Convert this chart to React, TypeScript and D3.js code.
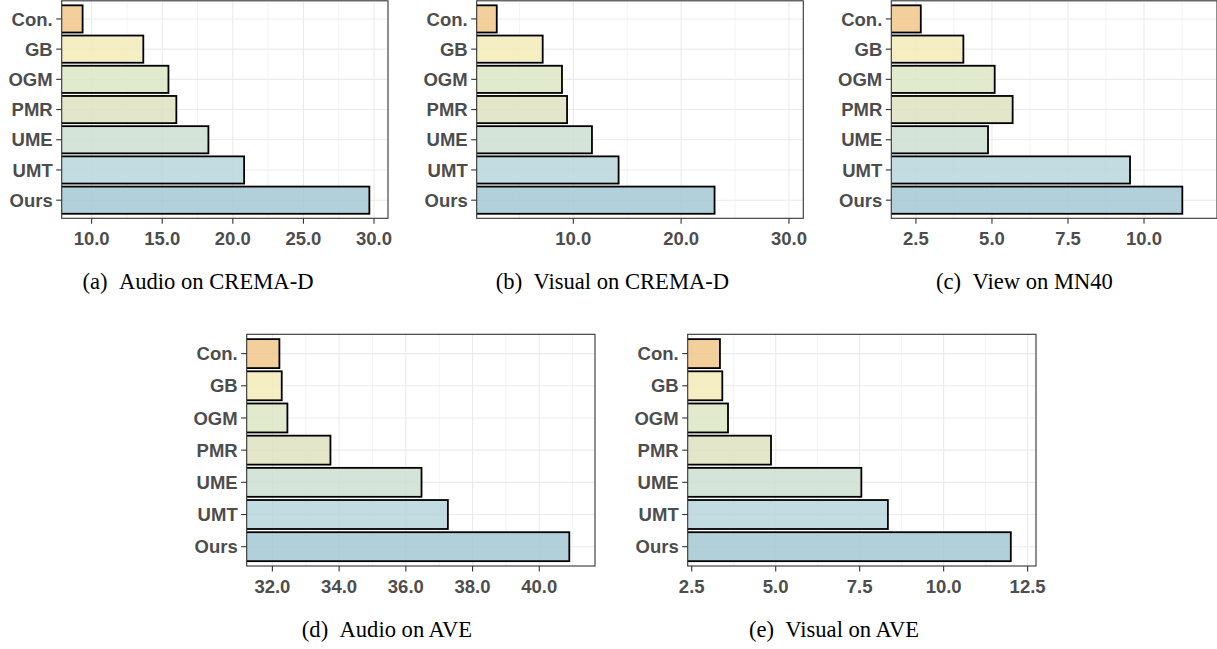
import React from 'react';
import * as d3 from 'd3';

const methods = ['Con.', 'GB', 'OGM', 'PMR', 'UME', 'UMT', 'Ours'];
const colors = ['#F0C78A', '#F4EBB9', '#DDE6C4', '#DEE2BE', '#CEDFD2', '#B8D6DD', '#A3C8D2'];

const audioCrema = [9.36, 13.66, 15.44, 16.0, 18.27, 20.8, 29.67];
const visualCrema = [2.9, 7.16, 8.95, 9.42, 11.73, 14.2, 23.1];
const viewMn40 = [2.66, 4.06, 5.09, 5.68, 4.87, 9.54, 11.26];
const audioAve = [32.21, 32.28, 32.45, 33.74, 36.47, 37.26, 40.9];
const visualAve = [3.34, 3.41, 3.58, 4.86, 7.55, 8.34, 12.0];

const ticksA = [10, 15, 20, 25, 30];
const ticksB = [10, 20, 30];
const ticksC = [2.5, 5, 7.5, 10];
const ticksD = [32, 34, 36, 38, 40];
const ticksE = [2.5, 5, 7.5, 10, 12.5];

const captions = ['(a)', '(b)', '(c)', '(d)', '(e)'];
const captionTexts = ['Audio on CREMA-D', 'Visual on CREMA-D', 'View on MN40', 'Audio on AVE', 'Visual on AVE'];

const panels = [
  { values: audioCrema, ticks: ticksA, domain: [7.88, 30.99], x: [61.7, 388], y: [0.8, 218.3], cap: [198, 289] },
  { values: visualCrema, ticks: ticksB, domain: [1.04, 31.33], x: [476.7, 803.3], y: [0.8, 218.3], cap: [612.5, 289] },
  { values: viewMn40, ticks: ticksC, domain: [1.69, 12.4], x: [891.3, 1217], y: [0.8, 218.3], cap: [1024.5, 289] },
  { values: audioAve, ticks: ticksD, domain: [31.23, 41.67], x: [246.7, 595], y: [334.3, 566], cap: [387, 637] },
  { values: visualAve, ticks: ticksE, domain: [2.38, 12.75], x: [687.7, 1036], y: [334.3, 566], cap: [834, 637] },
];

const sans = "'Liberation Sans', Arial, Helvetica, sans-serif";
const serif = "'Liberation Serif', 'Times New Roman', serif";
const fmt = d3.format('.1f');

function minorTicks(ticks: number[], domain: number[]) {
  const step = ticks[1] - ticks[0];
  const out: number[] = [];
  const cand = [ticks[0] - step / 2, ...ticks.map(t => t + step / 2)];
  cand.forEach(c => { if (c > domain[0] && c < domain[1]) out.push(c); });
  return out;
}

const Panel = ({ p, idx }: any) => {
  const x = d3.scaleLinear().domain(p.domain).range(p.x);
  const y = d3.scaleBand<string>().domain(methods).range(p.y).paddingInner(0.1).paddingOuter(0.15);
  const [x0, x1] = p.x;
  const [y0, y1] = p.y;
  const clipId = `clip${idx}`;
  return (
    <g>
      <defs>
        <clipPath id={clipId}>
          <rect x={x0} y={y0} width={x1 - x0} height={y1 - y0} />
        </clipPath>
      </defs>
      <rect x={x0} y={y0} width={x1 - x0} height={y1 - y0} fill="#fff" />
      <g clipPath={`url(#${clipId})`}>
        {minorTicks(p.ticks, p.domain).map((t: number) => (
          <line key={'m' + t} x1={x(t)} x2={x(t)} y1={y0} y2={y1} stroke="#EBEBEB" strokeWidth={0.6} />
        ))}
        {p.ticks.map((t: number) => (
          <line key={'g' + t} x1={x(t)} x2={x(t)} y1={y0} y2={y1} stroke="#EBEBEB" strokeWidth={1.1} />
        ))}
        {methods.map(m => (
          <line key={'h' + m} x1={x0} x2={x1} y1={y(m)! + y.bandwidth() / 2} y2={y(m)! + y.bandwidth() / 2} stroke="#EBEBEB" strokeWidth={1.1} />
        ))}
        {methods.map((m, i) => (
          <rect key={'b' + m} x={x0 - 5} y={y(m)} width={x(p.values[i]) - x0 + 5} height={y.bandwidth()}
            fill={colors[i]} fillOpacity={0.85} stroke="#000" strokeWidth={1.8} />
        ))}
      </g>
      <rect x={x0} y={y0} width={x1 - x0} height={y1 - y0} fill="none" stroke="#333" strokeWidth={1.1} />
      {methods.map(m => {
        const cy = y(m)! + y.bandwidth() / 2;
        return (
          <g key={'yl' + m}>
            <line x1={x0 - 5.5} x2={x0} y1={cy} y2={cy} stroke="#333" strokeWidth={1.1} />
            <text x={x0 - 9} y={cy} dy="0.36em" textAnchor="end" fontFamily={sans} fontWeight="bold" fontSize={18.5} fill="#4D4D4D">{m}</text>
          </g>
        );
      })}
      {p.ticks.map((t: number) => (
        <g key={'xl' + t}>
          <line x1={x(t)} x2={x(t)} y1={y1} y2={y1 + 5.5} stroke="#333" strokeWidth={1.1} />
          <text x={x(t)} y={y1 + 26.5} textAnchor="middle" fontFamily={sans} fontWeight="bold" fontSize={18.5} fill="#4D4D4D">{fmt(t)}</text>
        </g>
      ))}
      <text x={p.cap[0]} y={p.cap[1]} textAnchor="middle" fontFamily={serif} fontSize={22.6} fill="#000">
        {captions[idx] + '\u00A0\u00A0' + captionTexts[idx]}
      </text>
    </g>
  );
};

export default function App() {
  return (
    <svg width={1217} height={649} style={{ position: 'absolute', left: 0, top: 0, background: '#fff' }}>
      <rect width={1217} height={649} fill="#fff" />
      {panels.map((p, i) => <Panel key={i} p={p} idx={i} />)}
    </svg>
  );
}
